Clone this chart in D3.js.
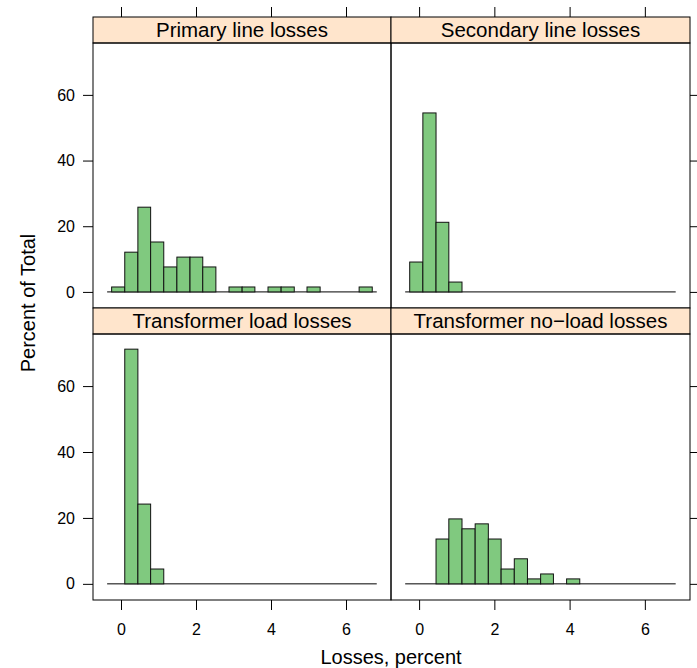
<!DOCTYPE html>
<html><head><meta charset="utf-8">
<script src="https://cdn.jsdelivr.net/npm/d3@7"></script>
<style>
body{margin:0;background:#fff}
text{font-family:"Liberation Sans",Arial,Helvetica,sans-serif;fill:#000}
</style></head>
<body><svg id="c" width="697" height="668"></svg>
<script>
// ---- data ----
const panelNames = ["Primary line losses","Secondary line losses","Transformer load losses","Transformer no\u2212load losses"];
const breaks = [-0.25,0.10,0.45,0.79,1.14,1.49,1.84,2.18,2.53,2.88,3.23,3.57,3.92,4.27,4.62,4.96,5.31,5.66,6.01,6.35,6.70];
const primaryLine    = [1.5,12.1,25.8,15.2,7.6,10.6,10.6,7.6,0,1.5,1.5,0,1.5,1.5,0,1.5,0,0,0,1.5];
const secondaryLine  = [9.1,54.5,21.2,3.0,0,0,0,0,0,0,0,0,0,0,0,0,0,0,0,0];
const transLoad      = [0,71.2,24.2,4.5,0,0,0,0,0,0,0,0,0,0,0,0,0,0,0,0];
const transNoLoad    = [0,0,13.6,19.7,16.7,18.2,13.6,4.5,7.6,1.5,3.0,0,1.5,0,0,0,0,0,0,0];
const refLineRange = [-0.37, 6.82];
const xTicks = [0,2,4,6];
const yTicks = [0,20,40,60];
const xDomain = [-0.747, 7.2];
const yDomain = [-4.9, 75.8];
const xTitle = "Losses, percent";
const yTitle = "Percent of Total";

const series = [primaryLine, secondaryLine, transLoad, transNoLoad];

// ---- layout ----
const svg = d3.select("#c");
const cols = [[93,391],[391,690]];
const rows = [{strip:[17,43], panel:[43,308]}, {strip:[308,334], panel:[334,600]}];
const stripFill = "#ffe5cc";
const barFill = "#80c97f";

series.forEach((vals, i) => {
  const c = cols[i % 2], r = rows[Math.floor(i / 2)];
  const x = d3.scaleLinear().domain(xDomain).range(c);
  const y = d3.scaleLinear().domain(yDomain).range([r.panel[1], r.panel[0]]);
  const g = svg.append("g");

  // strip
  g.append("rect").attr("x", c[0]).attr("y", r.strip[0]).attr("width", c[1]-c[0]).attr("height", r.strip[1]-r.strip[0])
    .attr("fill", stripFill).attr("stroke", "#000").attr("stroke-width", 1);
  g.append("text").attr("x", (c[0]+c[1])/2).attr("y", (r.strip[0]+r.strip[1])/2).attr("dy", "0.36em")
    .attr("text-anchor", "middle").style("font-size", "20.5px").text(panelNames[i]);

  // reference line at 0
  g.append("line").attr("x1", x(refLineRange[0])).attr("x2", x(refLineRange[1]))
    .attr("y1", y(0)).attr("y2", y(0)).attr("stroke", "#000").attr("stroke-width", 1);

  // bars
  const bins = vals.map((v, k) => ({x0: breaks[k], x1: breaks[k+1], v})).filter(d => d.v > 0);
  g.selectAll("rect.bar").data(bins).join("rect").attr("class", "bar")
    .attr("x", d => x(d.x0)).attr("width", d => x(d.x1) - x(d.x0))
    .attr("y", d => y(d.v)).attr("height", d => y(0) - y(d.v))
    .attr("fill", barFill).attr("stroke", "#111").attr("stroke-width", 1);

  // panel border
  g.append("rect").attr("x", c[0]).attr("y", r.panel[0]).attr("width", c[1]-c[0]).attr("height", r.panel[1]-r.panel[0])
    .attr("fill", "none").attr("stroke", "#000").attr("stroke-width", 1);

  // axes
  const tick = 10;
  if (i % 2 === 0) {
    const ax = d3.axisLeft(y).tickValues(yTicks).tickSize(tick).tickPadding(8).tickFormat(d3.format("d"));
    const a = g.append("g").attr("transform", `translate(${c[0]},0)`).call(ax);
    a.select(".domain").remove();
    a.selectAll("text").style("font-size", "16px").attr("font-family", null);
  } else {
    const ax = d3.axisRight(y).tickValues(yTicks).tickSize(tick).tickFormat("");
    const a = g.append("g").attr("transform", `translate(${c[1]},0)`).call(ax);
    a.select(".domain").remove();
  }
  if (i < 2) {
    const ax = d3.axisTop(x).tickValues(xTicks).tickSize(tick).tickFormat("");
    const a = g.append("g").attr("transform", `translate(0,${r.strip[0]})`).call(ax);
    a.select(".domain").remove();
  } else {
    const ax = d3.axisBottom(x).tickValues(xTicks).tickSize(tick).tickPadding(14).tickFormat(d3.format("d"));
    const a = g.append("g").attr("transform", `translate(0,${r.panel[1]})`).call(ax);
    a.select(".domain").remove();
    a.selectAll("text").style("font-size", "16px").attr("font-family", null);
  }
  g.selectAll(".tick line").attr("stroke", "#000");
});

svg.append("text").attr("x", 391).attr("y", 657).attr("dy", "0.36em").attr("text-anchor", "middle")
  .style("font-size", "20px").text(xTitle);
svg.append("text").attr("transform", "translate(28,303) rotate(-90)").attr("dy", "0.36em").attr("text-anchor", "middle")
  .style("font-size", "20px").text(yTitle);
</script></body></html>
